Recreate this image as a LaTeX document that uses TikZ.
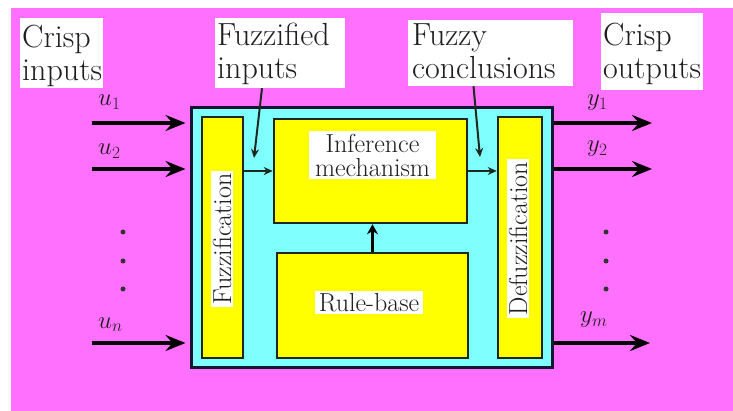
\documentclass[tikz,border=0pt]{standalone}
\usetikzlibrary{arrows.meta}

\definecolor{bgmag}{RGB}{255,112,255}
\definecolor{syscyan}{RGB}{128,255,255}
\definecolor{blkyellow}{RGB}{255,255,0}
\definecolor{edgeblue}{RGB}{20,22,50}
\definecolor{edgegreen}{RGB}{30,40,30}
\definecolor{ink}{RGB}{30,30,30}

\tikzset{
  sysbox/.style={draw=edgeblue, line width=3pt, fill=syscyan, inner sep=0pt},
  blockbox/.style={draw=edgegreen, line width=2.5pt, fill=blkyellow, inner sep=0pt},
  tagbox/.style={fill=white, inner sep=0pt},
  tagtext/.style={font=\fontsize{32}{33}\selectfont, text=ink, align=left, inner sep=0pt, anchor=north west},
  blocktext/.style={font=\fontsize{26}{26}\selectfont, text=ink, fill=white, inner xsep=3pt, inner ysep=2pt, align=center},
  siglabel/.style={font=\fontsize{23}{23}\selectfont, text=ink, inner sep=0pt, anchor=base west},
  bigarrow/.style={line width=4.5pt, draw=black, -{Stealth[length=20pt,width=16pt,inset=7pt]}},
  thinarrow/.style={line width=2pt, draw=edgegreen, -{Stealth[length=9pt,width=8pt]}},
  midarrow/.style={line width=3pt, draw=black, -{Stealth[length=10pt,width=11pt]}},
  vdot/.style={circle, fill=black!80, inner sep=0pt, minimum size=5pt}
}

\begin{document}
\begin{tikzpicture}[x=1pt, y=-1pt]
  % canvas and coloured backdrop
  \path[fill=white] (0,0) rectangle (733,411);
  \useasboundingbox (0,0) rectangle (733,411);
  \path[fill=bgmag] (11,8) rectangle (733,411);

  % the fuzzy controller and its four blocks
  \node[sysbox, minimum width=361pt, minimum height=259pt] (sys) at (371.5,237.5) {};
  \node[blockbox, minimum width=41pt, minimum height=241pt] (fuz) at (222.5,237.5) {};
  \node[blockbox, minimum width=193pt, minimum height=104pt] (inf) at (370.5,171) {};
  \node[blockbox, minimum width=191pt, minimum height=105pt] (rule) at (372.5,305.5) {};
  \node[blockbox, minimum width=44pt, minimum height=241pt] (def) at (520,237.5) {};

  \node[blocktext, rotate=90] (fuzt) at (222,239) {Fuzzification};
  \node[blocktext, rotate=90] (deft) at (518,238.5) {Defuzzification};
  \node[blocktext, inner xsep=6pt, inner ysep=3pt] (inft) at (372.5,155) {Inference\\[-2pt]mechanism};
  \node[blocktext, inner xsep=4pt] (rulet) at (369,302.5) {Rule-base};

  % caption boxes along the top
  \node[tagbox, minimum width=83pt, minimum height=70pt] (cin) at (61.5,53) {};
  \node[tagbox, minimum width=130pt, minimum height=70pt] (fin) at (280,53) {};
  \node[tagbox, minimum width=165pt, minimum height=66pt] (fcon) at (490.5,53) {};
  \node[tagbox, minimum width=102pt, minimum height=77pt] (cout) at (652,51.5) {};

  \node[tagtext] (cint) at (22,25) {Crisp\\inputs};
  \node[tagtext] (fint) at (217,23) {Fuzzified\\inputs};
  \node[tagtext] (fcont) at (412,24) {Fuzzy\\conclusions};
  \node[tagtext] (coutt) at (603,23) {Crisp\\outputs};

  % crisp inputs entering the fuzzifier side
  \coordinate (u1s) at (92,123);
  \coordinate (u2s) at (92,169);
  \coordinate (uns) at (92,343);
  \draw[bigarrow, shorten >=4pt] (u1s) -- (u1s -| sys.west);
  \draw[bigarrow, shorten >=4pt] (u2s) -- (u2s -| sys.west);
  \draw[bigarrow, shorten >=4pt] (uns) -- (uns -| sys.west);
  \node[siglabel] (u1) at (98,106) {$u_1$};
  \node[siglabel] (u2) at (98,155) {$u_2$};
  \node[siglabel] (un) at (98,328) {$u_n$};
  \node[vdot] (ud1) at (123,232) {};
  \node[vdot] (ud2) at (123,261) {};
  \node[vdot] (ud3) at (123,289) {};

  % crisp outputs leaving the defuzzifier side
  \coordinate (y1e) at (652,123);
  \coordinate (y2e) at (652,169);
  \coordinate (yme) at (650,343);
  \draw[bigarrow] (y1e -| sys.east) -- (y1e);
  \draw[bigarrow] (y2e -| sys.east) -- (y2e);
  \draw[bigarrow] (yme -| sys.east) -- (yme);
  \node[siglabel] (y1) at (587,106) {$y_1$};
  \node[siglabel] (y2) at (587,152) {$y_2$};
  \node[siglabel] (ym) at (580,323) {$y_m$};
  \node[vdot] (yd1) at (606,232) {};
  \node[vdot] (yd2) at (606,261) {};
  \node[vdot] (yd3) at (606,289) {};

  % internal signal flow
  \draw[thinarrow] (fuz.east |- inf.west) -- (inf.west);
  \draw[thinarrow] (inf.east) -- (def.west |- inf.east);
  \draw[midarrow] (rule.north) -- (rule.north |- inf.south);

  % pointers from the captions
  \coordinate (fpt) at (254,158);
  \coordinate (cpt) at (480,157);
  \draw[thinarrow] ([xshift=-18pt]fin.south) -- (fpt);
  \draw[thinarrow] ([xshift=-17pt]fcon.south) -- (cpt);
\end{tikzpicture}
\end{document}
